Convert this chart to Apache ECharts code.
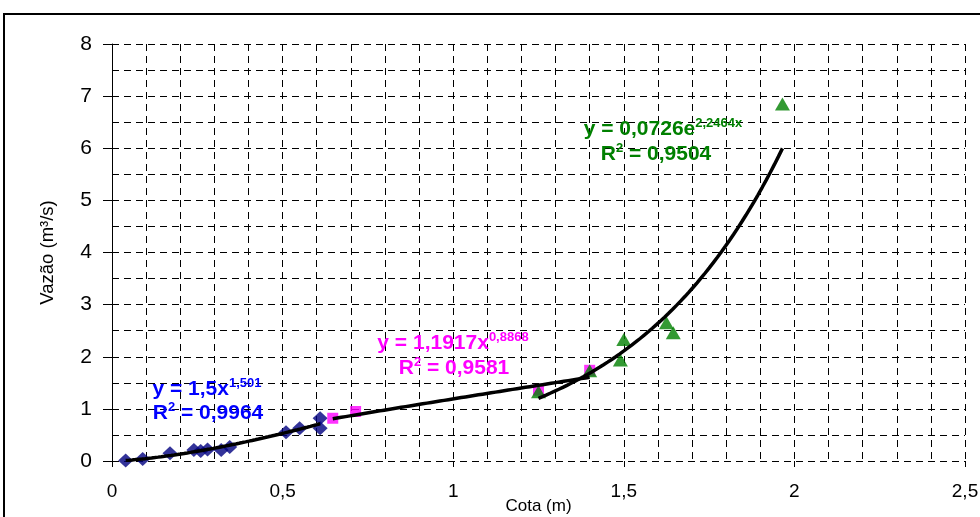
<!DOCTYPE html>
<html>
<head>
<meta charset="utf-8">
<script src="https://cdn.jsdelivr.net/npm/echarts@6/dist/echarts.min.js"></script>
<style>html,body{margin:0;padding:0;background:#fff}#c{width:980px;height:517px}</style>
</head>
<body>
<div id="c"></div>
<script>
// Observed data (Cota m, Vazão m³/s)
var blueX = [0.04, 0.09, 0.17, 0.24, 0.26, 0.28, 0.32, 0.345, 0.51, 0.55, 0.61, 0.61];
var blueY = [0.01, 0.04, 0.15, 0.21, 0.19, 0.22, 0.21, 0.27, 0.55, 0.63, 0.82, 0.63];
var magentaX = [0.647, 0.714, 1.25, 1.40];
var magentaY = [0.82, 0.95, 1.36, 1.74];
var greenX = [1.25, 1.40, 1.49, 1.50, 1.625, 1.645, 1.965];
var greenY = [1.33, 1.73, 1.94, 2.33, 2.65, 2.46, 6.85];

// Trendline equations as printed on the chart
var powerA = [1.5, 1.1917];
var powerB = [1.501, 0.8868];
var expA = 0.0726;
var expB = 2.2464;

var xTicks = [0, 0.5, 1, 1.5, 2, 2.5];
var yTicks = [0, 1, 2, 3, 4, 5, 6, 7, 8];

function pairs(xs, ys) { return xs.map(function (x, i) { return [x, ys[i]]; }); }
function trend(xs, f) {
  var lo = Math.min.apply(null, xs), hi = Math.max.apply(null, xs), out = [], n = 60;
  for (var i = 0; i <= n; i++) { var x = lo + (hi - lo) * i / n; out.push([x, f(x)]); }
  return out;
}
var bluePts = pairs(blueX, blueY), magPts = pairs(magentaX, magentaY), greenPts = pairs(greenX, greenY);
var blueTrend = trend(blueX, function (x) { return powerA[0] * Math.pow(x, powerB[0]); });
var magTrend = trend(magentaX, function (x) { return powerA[1] * Math.pow(x, powerB[1]); });
var greenTrend = trend(greenX, function (x) { return expA * Math.exp(expB * x); });

var dash = { color: '#000', width: 1, type: [7, 5] };
var fmt = function (v) { return String(v).replace('.', ','); };

function eq(x, y, color, parts) {
  return {
    type: 'text', x: x, y: y, z: 100,
    style: {
      text: parts, textAlign: 'center', textVerticalAlign: 'middle',
      rich: {
        a: { fontFamily: 'Liberation Sans, Arial', fontWeight: 'bold', fontSize: 21, lineHeight: 25, fill: color, color: color },
        s: { fontFamily: 'Liberation Sans, Arial', fontWeight: 'bold', fontSize: 13, lineHeight: 21, verticalAlign: 'top', fill: color, color: color }
      }
    }
  };
}

var chart = echarts.init(document.getElementById('c'));
chart.setOption({
  animation: false,
  backgroundColor: '#fff',
  grid: { left: 112, right: 15, top: 44, bottom: 56, containLabel: false, outerBoundsMode: 'none' },
  xAxis: {
    type: 'value', min: 0, max: 2.5, interval: 0.5,
    name: 'Cota (m)', nameLocation: 'middle', nameGap: 37, nameMoveOverlap: false,
    nameTextStyle: { fontFamily: 'Liberation Sans Narrow, Arial', fontSize: 17, color: '#000' },
    axisLine: { show: false },
    axisTick: { show: true, length: 6, lineStyle: { color: '#000', width: 1 } },
    axisLabel: { formatter: fmt, fontFamily: 'Liberation Sans Narrow, Arial', fontSize: 19, color: '#000', margin: 21 },
    splitLine: { show: true, lineStyle: dash },
    minorTick: { show: false, splitNumber: 5 },
    minorSplitLine: { show: true, lineStyle: dash }
  },
  yAxis: {
    type: 'value', min: 0, max: 8, interval: 1,
    name: 'Vazão (m³/s)', nameLocation: 'middle', nameGap: 55, nameRotate: 90, nameMoveOverlap: false,
    nameTextStyle: { fontFamily: 'Liberation Sans, Arial', fontSize: 18.5, color: '#000' },
    axisLine: { show: true, lineStyle: { color: '#000', width: 1 } },
    axisTick: { show: true, length: 9, lineStyle: { color: '#000', width: 1 } },
    axisLabel: { formatter: fmt, fontFamily: 'Liberation Sans, Arial', fontSize: 21, color: '#000', margin: 20 },
    splitLine: { show: true, lineStyle: dash },
    minorTick: { show: false, splitNumber: 2 },
    minorSplitLine: { show: true, lineStyle: dash }
  },
  series: [
    { type: 'scatter', data: bluePts, symbol: 'diamond', symbolSize: [15, 14], itemStyle: { color: '#000080' }, z: 3 },
    { type: 'scatter', data: magPts, symbol: 'rect', symbolSize: 11, itemStyle: { color: '#FF00FF' }, z: 3 },
    { type: 'scatter', data: greenPts, symbol: 'triangle', symbolSize: [15, 13], itemStyle: { color: '#008000' }, z: 4 },
    { type: 'line', data: blueTrend, showSymbol: false, symbol: 'none', lineStyle: { color: '#000', width: 3.5 }, z: 5 },
    { type: 'line', data: magTrend, showSymbol: false, symbol: 'none', lineStyle: { color: '#000', width: 3.5 }, z: 5 },
    { type: 'line', data: greenTrend, showSymbol: false, symbol: 'none', lineStyle: { color: '#000', width: 3.5 }, z: 5 }
  ],
  graphic: [
    { type: 'rect', shape: { x: 4, y: 14, width: 1000, height: 600 }, style: { fill: 'none', stroke: '#000', lineWidth: 2 }, z: 100 },
    eq(207, 389, '#0000FF', '{a|y = 1,5x}{s|1,501}'),
    eq(208, 413, '#0000FF', '{a|R}{s|2}{a| = 0,9964}'),
    eq(453, 343, '#FF00FF', '{a|y = 1,1917x}{s|0,8868}'),
    eq(454, 368, '#FF00FF', '{a|R}{s|2}{a| = 0,9581}'),
    eq(663, 129, '#008000', '{a|y = 0,0726e}{s|2,2464x}'),
    eq(656, 154, '#008000', '{a|R}{s|2}{a| = 0,9504}')
  ]
});
</script>
</body>
</html>
